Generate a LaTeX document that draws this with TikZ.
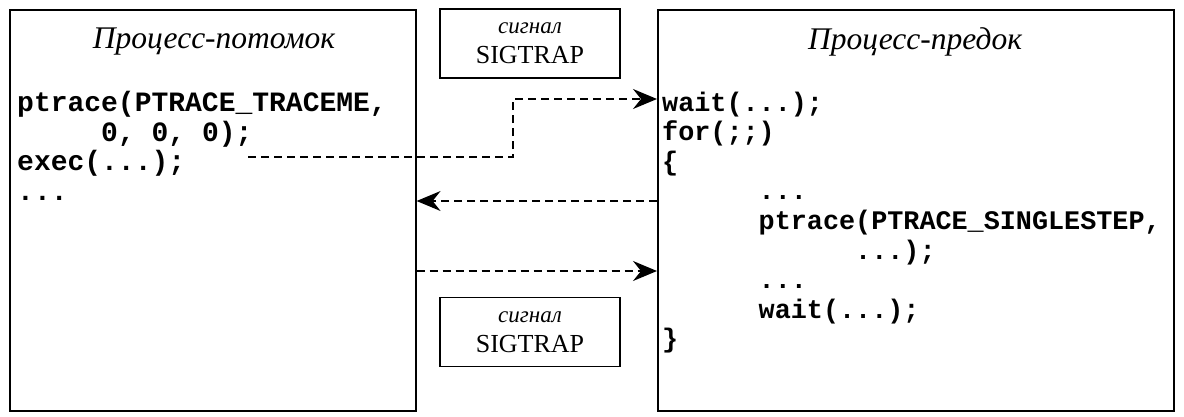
\documentclass[tikz,border=0pt]{standalone}
\usepackage{fontspec}
\setmainfont{Liberation Serif}
\setmonofont{Liberation Mono}
\usetikzlibrary{arrows.meta}

\begin{document}
\begin{tikzpicture}[x=1pt, y=-1pt,
    procbox/.style={draw, line width=1.6pt, inner sep=0pt, anchor=north west},
    sigbox/.style={draw, line width=1.6pt, inner sep=0pt, minimum width=180pt, minimum height=69pt, align=center, font=\fontsize{26}{30}\selectfont},
    proctitle/.style={font=\itshape\fontsize{31.5}{36}\selectfont},
    code/.style={anchor=north west, inner sep=0pt, align=left, font=\ttfamily\bfseries\fontsize{28}{29.6}\selectfont},
    msg/.style={line width=1.6pt, dash pattern=on 8pt off 5pt, -{Stealth[length=24pt, width=20pt, inset=8pt]}}]
  \useasboundingbox (0,0) rectangle (1184,416);
  % processes
  \node[procbox, minimum width=406pt, minimum height=401pt] (child) at (9,9) {};
  \node[procbox, minimum width=516pt, minimum height=401pt] (parent) at (657,9) {};
  \node[proctitle] (childtitle) at (214,42) {Процесс-потомок};
  \node[proctitle] (parenttitle) at (915,42) {Процесс-предок};
  % signals
  \node[sigbox] (sigtop) at (530,43.5) {{\itshape\fontsize{23}{30}\selectfont сигнал}\\SIGTRAP};
  \node[sigbox] (sigbot) at (530,332) {{\itshape\fontsize{23}{30}\selectfont сигнал}\\SIGTRAP};
  % code
  \node[code] (childcode) at (17,91) {ptrace(PTRACE\_TRACEME,\\
    \hphantom{00000}0, 0, 0);\\
    exec(...);\\
    ...};
  \node[code, font=\ttfamily\bfseries\fontsize{26.8}{29.6}\selectfont] (parentcode) at (662,91.5) {wait(...);\\
    for(;;)\\
    \{\\
    \hphantom{000000}...\\
    \hphantom{000000}ptrace(PTRACE\_SINGLESTEP,\\
    \hphantom{000000000000}...);\\
    \hphantom{000000}...\\
    \hphantom{000000}wait(...);\\
    \}};
  % levels of the messages
  \coordinate (execend) at (248,157);
  \coordinate (bend) at (513,99);
  \coordinate (lvlstep) at (0,201);
  \coordinate (lvltrap) at (0,271);
  \draw[msg] (execend) -- (execend -| bend) -- (bend) -- (parent.west |- bend);
  \draw[msg] (parent.west |- lvlstep) -- (child.east |- lvlstep);
  \draw[msg] (child.east |- lvltrap) -- (parent.west |- lvltrap);
\end{tikzpicture}
\end{document}
